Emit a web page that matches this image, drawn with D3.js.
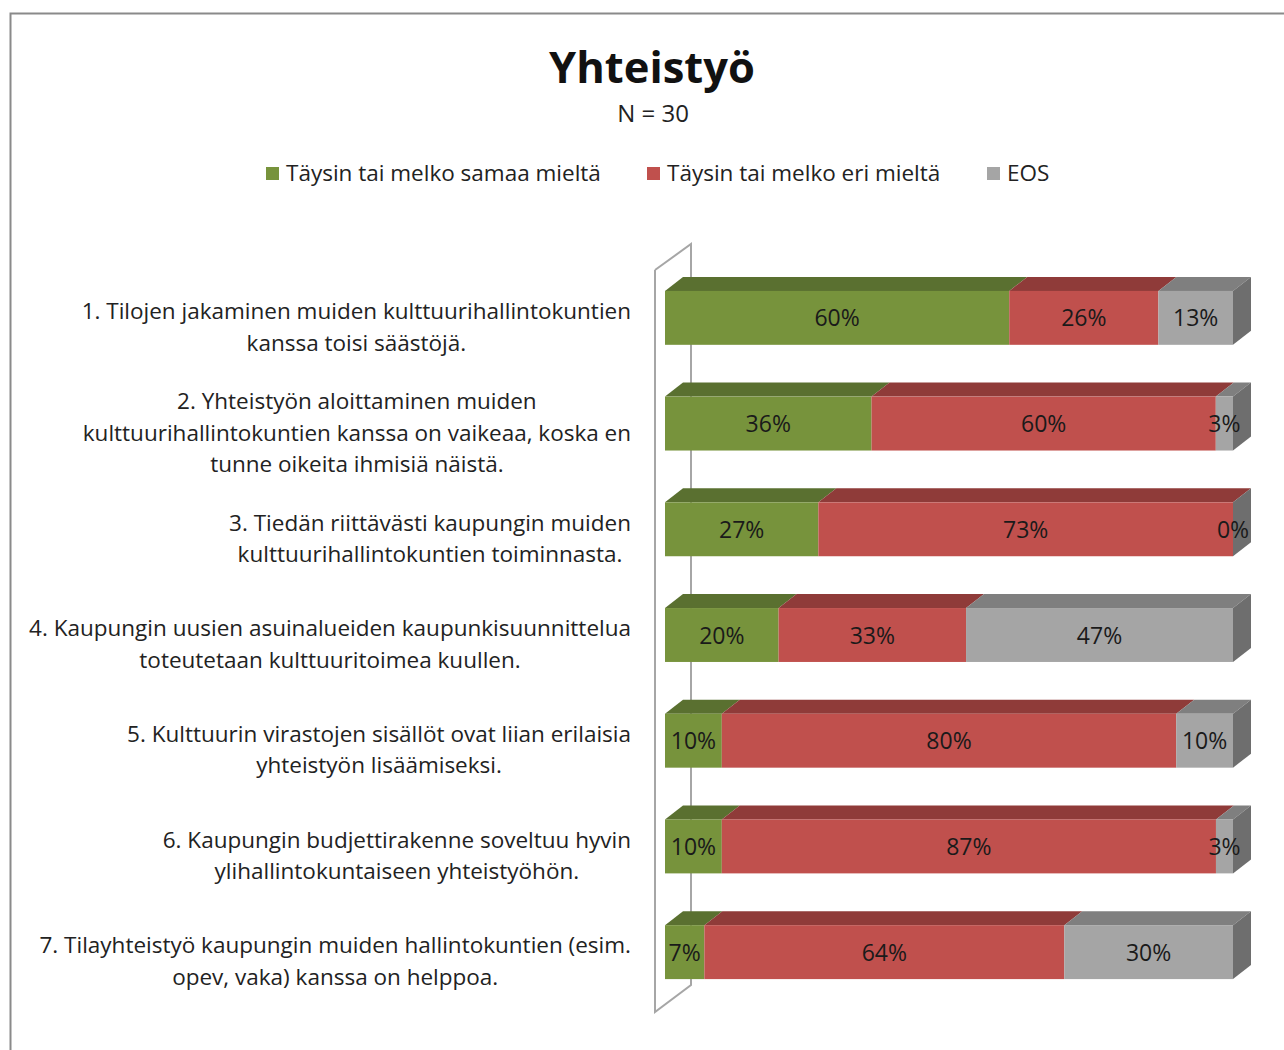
<!DOCTYPE html>
<html>
<head>
<meta charset="utf-8">
<script src="https://cdn.jsdelivr.net/npm/d3@7"></script>
<style>
    body { margin: 0; background: #fff; }
    svg { font-family: "Open Sans", Lato, sans-serif; }
</style>
</head>
<body>
<script>
(function(){
    // chart values
    var questions = [
        ["1. Tilojen jakaminen muiden kulttuurihallintokuntien", "kanssa toisi säästöjä."],
        ["2. Yhteistyön aloittaminen muiden", "kulttuurihallintokuntien kanssa on vaikeaa, koska en", "tunne oikeita ihmisiä näistä."],
        ["3. Tiedän riittävästi kaupungin muiden", "kulttuurihallintokuntien toiminnasta."],
        ["4. Kaupungin uusien asuinalueiden kaupunkisuunnittelua", "toteutetaan kulttuuritoimea kuullen."],
        ["5. Kulttuurin virastojen sisällöt ovat liian erilaisia", "yhteistyön lisäämiseksi."],
        ["6. Kaupungin budjettirakenne soveltuu hyvin", "ylihallintokuntaiseen yhteistyöhön."],
        ["7. Tilayhteistyö kaupungin muiden hallintokuntien (esim.", "opev, vaka) kanssa on helppoa."]
    ];
    var seriesNames = ["Täysin tai melko samaa mieltä", "Täysin tai melko eri mieltä", "EOS"];
    var agree    = [60, 36, 27, 20, 10, 10, 7];
    var disagree = [26, 60, 73, 33, 80, 87, 64];
    var eos      = [13, 3, 0, 47, 10, 3, 30];

    var frontColors = ["#77933C", "#C0504D", "#A5A5A5"],
        topColors   = ["#5A7030", "#8F3B39", "#7F7F7F"],
        sideColor   = "#6E6E6E";

    var width = 1284, height = 1050;

    var svg = d3.select("body")
        .append("svg")
        .attr("width", width)
        .attr("height", height);

    // outer chart frame (runs off the right and bottom edges)
    svg.append("rect")
        .attr("x", 10.5)
        .attr("y", 13.5)
        .attr("width", 1400)
        .attr("height", 1200)
        .attr("fill", "#fff")
        .attr("stroke", "#8a8a8a")
        .attr("stroke-width", 2);

    // title
    svg.append("text")
        .attr("x", 652)
        .attr("y", 83)
        .attr("text-anchor", "middle")
        .style("font-size", "43.5px")
        .style("font-weight", "bold")
        .attr("fill", "#111")
        .text("Yhteistyö");

    svg.append("text")
        .attr("x", 653)
        .attr("y", 122)
        .attr("text-anchor", "middle")
        .style("font-size", "24px")
        .attr("fill", "#222")
        .text("N = 30");

    // legend
    var legendX = [266, 647, 987];
    var legend = svg.selectAll(".legend")
        .data(seriesNames)
        .enter()
        .append("g")
        .attr("class", "legend")
        .attr("transform", function(d, i){ return "translate(" + legendX[i] + ",167)"; });

    legend.append("rect")
        .attr("width", 13)
        .attr("height", 13)
        .attr("fill", function(d, i){ return frontColors[i]; });

    legend.append("text")
        .attr("x", 20)
        .attr("y", 14)
        .style("font-size", "22.5px")
        .attr("fill", "#222")
        .text(function(d){ return d; });

    // scales
    var depthX = 18, depthY = 14;
    var xScale = d3.scaleLinear()
        .domain([0, 1])
        .range([665, 1233]);

    var yScale = d3.scaleBand()
        .domain(d3.range(questions.length))
        .range([265, 1005])
        .paddingInner(0.49)
        .paddingOuter(0.245);

    // side wall of the category axis
    var wall = [[655, 270], [691, 244], [691, 985], [655, 1012], [655, 270]];
    svg.append("path")
        .attr("d", d3.line()(wall))
        .attr("fill", "none")
        .attr("stroke", "#a6a6a6")
        .attr("stroke-width", 2);

    // stacked rows, normalised to 100 %
    var rows = questions.map(function(q, i){
        var vals = [agree[i], disagree[i], eos[i]];
        var total = d3.sum(vals);
        var acc = 0;
        return vals.map(function(v, s){
            var seg = { row: i, series: s, value: v, x0: acc / total, x1: (acc + v) / total };
            acc += v;
            return seg;
        });
    });

    var segs = [].concat.apply([], rows);

    var bars = svg.append("g");

    // top faces
    bars.selectAll(".topFace")
        .data(segs)
        .enter()
        .append("path")
        .attr("class", "topFace")
        .attr("d", function(d){
            var x0 = xScale(d.x0), x1 = xScale(d.x1), y = yScale(d.row);
            return d3.line()([[x0, y], [x0 + depthX, y - depthY], [x1 + depthX, y - depthY], [x1, y]]) + "Z";
        })
        .attr("fill", function(d){ return topColors[d.series]; });

    // right side face of each row
    bars.selectAll(".sideFace")
        .data(rows)
        .enter()
        .append("path")
        .attr("class", "sideFace")
        .attr("d", function(r, i){
            var x = xScale(1), y = yScale(i), h = yScale.bandwidth();
            return d3.line()([[x, y], [x + depthX, y - depthY], [x + depthX, y + h - depthY], [x, y + h]]) + "Z";
        })
        .attr("fill", sideColor);

    // front faces
    bars.selectAll(".frontFace")
        .data(segs)
        .enter()
        .append("rect")
        .attr("class", "frontFace")
        .attr("x", function(d){ return xScale(d.x0); })
        .attr("y", function(d){ return yScale(d.row); })
        .attr("width", function(d){ return xScale(d.x1) - xScale(d.x0); })
        .attr("height", yScale.bandwidth())
        .attr("fill", function(d){ return frontColors[d.series]; });

    // data labels
    bars.selectAll(".valueLabel")
        .data(segs)
        .enter()
        .append("text")
        .attr("class", "valueLabel")
        .attr("text-anchor", "middle")
        .attr("x", function(d){ return (xScale(d.x0) + xScale(d.x1)) / 2; })
        .attr("y", function(d){ return yScale(d.row) + yScale.bandwidth() / 2 + 8.5; })
        .style("font-size", "23px")
        .attr("fill", "#1a1a1a")
        .text(function(d){ return d.value + "%"; });

    // category labels: centred lines, block right-aligned to the wall
    var lineH = 31.5, labelRight = 631;
    var labels = svg.selectAll(".catLabel")
        .data(questions)
        .enter()
        .append("text")
        .attr("class", "catLabel")
        .attr("text-anchor", "middle")
        .style("font-size", "22.5px")
        .attr("fill", "#222");

    labels.each(function(lines, i){
        var t = d3.select(this);
        var midY = yScale(i) + yScale.bandwidth() / 2 + 8;
        var startY = midY - (lines.length - 1) * lineH / 2 + 9;
        lines.forEach(function(line, k){
            t.append("tspan")
                .attr("y", startY + k * lineH)
                .text(line);
        });
        var maxW = 0;
        t.selectAll("tspan").each(function(){
            maxW = Math.max(maxW, this.getComputedTextLength());
        });
        t.selectAll("tspan").attr("x", labelRight - maxW / 2);
    });
})();
</script>
</body>
</html>
